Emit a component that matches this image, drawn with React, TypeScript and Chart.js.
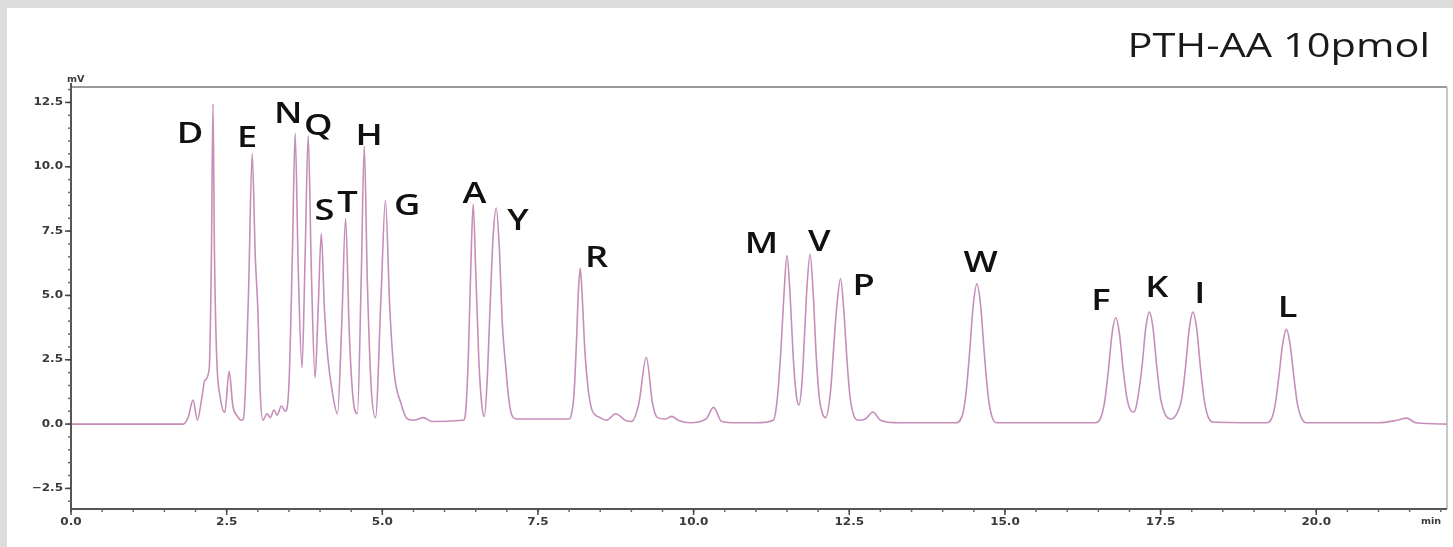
import React, { useEffect, useRef } from "react";
import { Chart, registerables } from "chart.js";

Chart.register(...registerables);

// Chromatogram trace: [retention time (min), signal (mV)]
const trace: [number, number][] = [
  [0, 0], [1.8, 0], [1.88, 0.25], [1.96, 0.93], [2.03, 0.15],
  [2.1, 1.0], [2.15, 1.7], [2.22, 2.15],
  [2.255, 6.5], [2.28, 12.45], [2.305, 6.5], [2.34, 2.6], [2.4, 1.0], [2.47, 0.45],
  [2.54, 2.05], [2.6, 0.7], [2.66, 0.35], [2.74, 0.15],
  [2.77, 0.2], [2.85, 5.0], [2.91, 10.5], [2.96, 6.5], [3.0, 4.5], [3.04, 1.2], [3.08, 0.15],
  [3.15, 0.4], [3.2, 0.25], [3.26, 0.55], [3.31, 0.35], [3.38, 0.7], [3.44, 0.5],
  [3.5, 1.5], [3.555, 6.5], [3.6, 11.3], [3.65, 6.0], [3.71, 2.2],
  [3.76, 6.5], [3.81, 11.2], [3.86, 6.0], [3.92, 1.8],
  [3.97, 4.5], [4.02, 7.4], [4.07, 4.5], [4.12, 2.7], [4.2, 1.2], [4.28, 0.4],
  [4.35, 4.0], [4.41, 8.0], [4.47, 3.5], [4.53, 1.0], [4.6, 0.4],
  [4.66, 5.5], [4.71, 10.8], [4.76, 5.5], [4.82, 1.5], [4.89, 0.25],
  [4.98, 5.0], [5.05, 8.7], [5.12, 4.5], [5.19, 2.0], [5.3, 0.8], [5.4, 0.2],
  [5.5, 0.15], [5.66, 0.25], [5.8, 0.1], [6.3, 0.15],
  [6.33, 0.3], [6.38, 2.5], [6.42, 6.0], [6.46, 8.55], [6.5, 6.0], [6.55, 2.5], [6.6, 0.7], [6.64, 0.3],
  [6.68, 1.5], [6.73, 4.5], [6.78, 7.3], [6.83, 8.4], [6.88, 6.8], [6.93, 3.8], [6.98, 2.3], [7.03, 1.0], [7.08, 0.35], [7.15, 0.2],
  [8.0, 0.2],
  [8.03, 0.3], [8.08, 1.2], [8.12, 3.3], [8.15, 5.2], [8.18, 6.05], [8.21, 5.0], [8.25, 3.0], [8.3, 1.5], [8.36, 0.6], [8.42, 0.35],
  [8.5, 0.25], [8.6, 0.15], [8.75, 0.4], [8.9, 0.15], [9.0, 0.1],
  [9.12, 0.8], [9.24, 2.6], [9.34, 0.8], [9.42, 0.25], [9.55, 0.2], [9.65, 0.3], [9.75, 0.15], [9.95, 0.05],
  [10.2, 0.2], [10.32, 0.65], [10.45, 0.1], [10.7, 0.05], [11.0, 0.05],
  [11.28, 0.15], [11.34, 0.9], [11.4, 2.8], [11.45, 5.0], [11.5, 6.55], [11.55, 5.0], [11.6, 2.6], [11.65, 1.1], [11.69, 0.74],
  [11.74, 1.6], [11.78, 3.4], [11.82, 5.3], [11.87, 6.6], [11.92, 5.1], [11.97, 2.6], [12.02, 1.0], [12.07, 0.4], [12.12, 0.25],
  [12.2, 1.3], [12.25, 3.0], [12.3, 4.6], [12.36, 5.65], [12.41, 4.5], [12.46, 2.6], [12.51, 1.1], [12.57, 0.35], [12.64, 0.15],
  [12.76, 0.2], [12.88, 0.47], [13.0, 0.15], [13.3, 0.05], [14.2, 0.05],
  [14.31, 0.3], [14.37, 1.1], [14.43, 2.7], [14.49, 4.6], [14.55, 5.45], [14.61, 4.6], [14.67, 2.7], [14.73, 1.1], [14.79, 0.3], [14.87, 0.05],
  [15.5, 0.05], [16.45, 0.05],
  [16.54, 0.25], [16.6, 0.85], [16.66, 2.05], [16.72, 3.5], [16.78, 4.13], [16.84, 3.5], [16.9, 2.1], [16.96, 1.0], [17.03, 0.5], [17.07, 0.47],
  [17.11, 0.7], [17.2, 2.2], [17.26, 3.7], [17.32, 4.35], [17.38, 3.7], [17.44, 2.2], [17.5, 1.0], [17.58, 0.35], [17.67, 0.2],
  [17.78, 0.5], [17.84, 1.0], [17.9, 2.2], [17.96, 3.7], [18.02, 4.35], [18.08, 3.7], [18.14, 2.2], [18.2, 0.95], [18.26, 0.3], [18.34, 0.08],
  [19.2, 0.05],
  [19.28, 0.2], [19.34, 0.75], [19.4, 1.85], [19.46, 3.1], [19.52, 3.68], [19.58, 3.1], [19.64, 1.85], [19.7, 0.75], [19.76, 0.25], [19.84, 0.05],
  [21.0, 0.05], [21.3, 0.15], [21.45, 0.23], [21.6, 0.05], [22.1, 0.0],
];

// Peak annotations (amino acid one-letter codes)
const peakNames = ["D", "E", "N", "Q", "S", "T", "H", "G", "A", "Y", "R", "M", "V", "P", "W", "F", "K", "I", "L"];
const peakLabelTimes = [1.91, 2.83, 3.49, 3.97, 4.07, 4.44, 4.79, 5.40, 6.48, 7.18, 8.44, 11.09, 12.02, 12.73, 14.61, 16.54, 17.44, 18.13, 19.54];
const peakLabelLevels = [10.93, 10.77, 11.70, 11.24, 7.93, 8.25, 10.85, 8.13, 8.60, 7.55, 6.11, 6.65, 6.73, 5.02, 5.92, 4.44, 4.94, 4.71, 4.17];

const xTickValues = [0, 2.5, 5, 7.5, 10, 12.5, 15, 17.5, 20];
const xTickLabels = ["0.0", "2.5", "5.0", "7.5", "10.0", "12.5", "15.0", "17.5", "20.0"];
const yTickValues = [-2.5, 0, 2.5, 5, 7.5, 10, 12.5];
const yTickLabels = ["\u22122.5", "0.0", "2.5", "5.0", "7.5", "10.0", "12.5"];
const minorStep = 0.5;

const titleText = "PTH-AA 10pmol";
const xUnit = "min";
const yUnit = "mV";

const X_MIN = 0, X_MAX = 22.1, Y_MIN = -3.3, Y_MAX = 13.1;

function drawScaledText(ctx: CanvasRenderingContext2D, text: string, x: number, y: number, font: string, align: CanvasTextAlign, sx: number, color: string, baseline: CanvasTextBaseline = "alphabetic") {
  ctx.save();
  ctx.translate(x, y);
  ctx.scale(sx, 1);
  ctx.font = font;
  ctx.textAlign = align;
  ctx.textBaseline = baseline;
  ctx.fillStyle = color;
  ctx.fillText(text, 0, 0);
  ctx.restore();
}

const decorPlugin = {
  id: "decor",
  beforeDraw(chart: any) {
    const { ctx, width, height } = chart;
    ctx.save();
    ctx.fillStyle = "#ffffff";
    ctx.fillRect(0, 0, width, height);
    ctx.fillStyle = "#dddddd";
    ctx.fillRect(0, 0, width, 8);
    ctx.fillRect(0, 0, 7, height);
    ctx.restore();
  },
  afterDraw(chart: any) {
    const { ctx, chartArea } = chart;
    const xs = chart.scales.x;
    const ys = chart.scales.y;
    const { left, right, top, bottom } = chartArea;
    ctx.save();
    // frame top/right
    ctx.strokeStyle = "#9a9a9a";
    ctx.lineWidth = 2;
    ctx.beginPath();
    ctx.moveTo(left, top);
    ctx.lineTo(right, top);
    ctx.stroke();
    ctx.strokeStyle = "#b5b5b5";
    ctx.lineWidth = 1.5;
    ctx.beginPath();
    ctx.moveTo(right, top);
    ctx.lineTo(right, bottom);
    ctx.stroke();
    // axes
    ctx.strokeStyle = "#555555";
    ctx.lineWidth = 2;
    ctx.beginPath();
    ctx.moveTo(left, top - 4);
    ctx.lineTo(left, bottom);
    ctx.lineTo(right, bottom);
    ctx.stroke();
    // minor ticks
    ctx.lineWidth = 1.5;
    ctx.strokeStyle = "#666666";
    for (let v = X_MIN; v <= X_MAX + 1e-9; v += minorStep) {
      const px = xs.getPixelForValue(v);
      ctx.beginPath();
      ctx.moveTo(px, bottom);
      ctx.lineTo(px, bottom + 3);
      ctx.stroke();
    }
    for (let v = -3; v <= Y_MAX + 1e-9; v += minorStep) {
      const py = ys.getPixelForValue(v);
      ctx.beginPath();
      ctx.moveTo(left - 3, py);
      ctx.lineTo(left, py);
      ctx.stroke();
    }
    // major ticks + labels
    ctx.strokeStyle = "#444444";
    ctx.lineWidth = 1.5;
    xTickValues.forEach((v, i) => {
      const px = xs.getPixelForValue(v);
      ctx.beginPath();
      ctx.moveTo(px, bottom);
      ctx.lineTo(px, bottom + 6);
      ctx.stroke();
      drawScaledText(ctx, xTickLabels[i], px, bottom + 13, "bold 10px 'DejaVu Sans'", "center", 1.2, "#3a3a3a", "middle");
    });
    yTickValues.forEach((v, i) => {
      const py = ys.getPixelForValue(v);
      ctx.beginPath();
      ctx.moveTo(left - 6, py);
      ctx.lineTo(left, py);
      ctx.stroke();
      drawScaledText(ctx, yTickLabels[i], left - 8, py, "bold 10px 'DejaVu Sans'", "right", 1.2, "#3a3a3a", "middle");
    });
    drawScaledText(ctx, xUnit, right - 16, bottom + 13, "bold 8px 'DejaVu Sans'", "center", 1.2, "#3a3a3a", "middle");
    drawScaledText(ctx, yUnit, left - 4, top - 7, "bold 8px 'DejaVu Sans'", "left", 1.2, "#3a3a3a", "middle");
    // title
    drawScaledText(ctx, titleText, right - 17, 57, "500 32px 'Open Sans'", "right", 1.3, "#1a1a1a");
    // peak labels
    peakNames.forEach((name, i) => {
      const px = xs.getPixelForValue(peakLabelTimes[i]);
      const py = ys.getPixelForValue(peakLabelLevels[i]);
      drawScaledText(ctx, name, px, py, "600 29px 'Open Sans'", "center", 1.25, "#111111");
    });
    ctx.restore();
  },
};

export default function App() {
  const canvasRef = useRef<HTMLCanvasElement | null>(null);

  useEffect(() => {
    document.body.style.margin = "0";
    const canvas = canvasRef.current;
    if (!canvas) return;
    const chart = new Chart(canvas, {
      type: "line",
      data: {
        datasets: [
          {
            data: trace.map(([t, v]) => ({ x: t, y: v })),
            borderColor: "#c58fba",
            borderWidth: 1.6,
            pointRadius: 0,
            cubicInterpolationMode: "monotone",
            fill: false,
          },
        ],
      },
      options: {
        responsive: false,
        maintainAspectRatio: false,
        animation: false,
        devicePixelRatio: 1,
        layout: { padding: { left: 71, right: 6, top: 87, bottom: 38 } },
        plugins: { legend: { display: false }, tooltip: { enabled: false }, title: { display: false } },
        scales: {
          x: { type: "linear", min: X_MIN, max: X_MAX, display: false },
          y: { type: "linear", min: Y_MIN, max: Y_MAX, display: false },
        },
      },
      plugins: [decorPlugin],
    });
    return () => chart.destroy();
  }, []);

  return (
    <div style={{ width: 1453, height: 547, position: "relative" }}>
      <canvas ref={canvasRef} width={1453} height={547} style={{ display: "block", width: 1453, height: 547 }} />
    </div>
  );
}
